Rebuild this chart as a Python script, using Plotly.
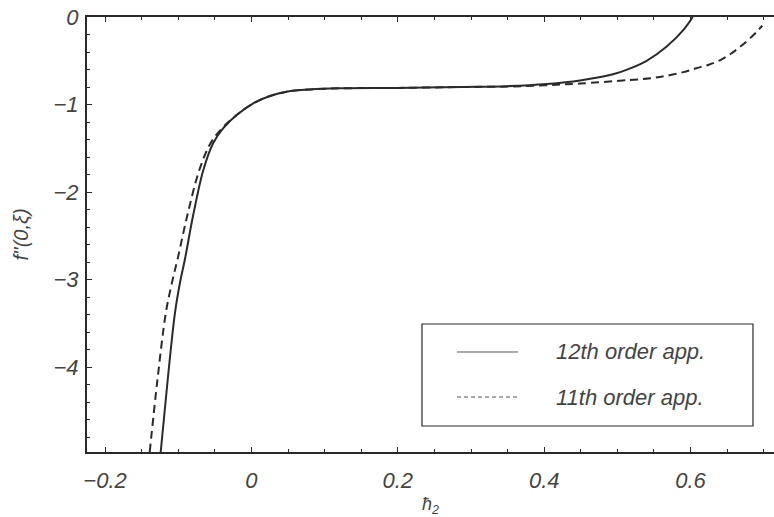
import plotly.graph_objects as go

# 12th order approximation of f''(0, xi) versus h2
h_12 = [-0.124, -0.1145, -0.1045, -0.098, -0.0905, -0.0800, -0.0658, -0.0522,
        -0.0385, -0.0202, 0.0025, 0.0253, 0.048, 0.080, 0.120, 0.200, 0.289,
        0.350, 0.404, 0.449, 0.494, 0.515, 0.540, 0.567, 0.590, 0.603]
f_12 = [-4.97, -4.15, -3.38, -3.05, -2.75, -2.28, -1.75, -1.44,
        -1.27, -1.12, -0.986, -0.903, -0.853, -0.827, -0.815, -0.81, -0.80,
        -0.79, -0.765, -0.725, -0.655, -0.595, -0.50, -0.34, -0.15, 0.0]

# 11th order approximation
h_11 = [-0.139, -0.1285, -0.117, -0.109, -0.1005, -0.088, -0.0713, -0.0557,
        -0.040, -0.0202, 0.0025, 0.0253, 0.048, 0.080, 0.120, 0.200, 0.289,
        0.350, 0.400, 0.449, 0.517, 0.545, 0.565, 0.590, 0.608, 0.625, 0.640,
        0.655, 0.667, 0.683, 0.698]
f_11 = [-4.97, -4.15, -3.38, -3.05, -2.75, -2.28, -1.75, -1.44,
        -1.27, -1.12, -0.986, -0.903, -0.853, -0.827, -0.815, -0.81, -0.80,
        -0.795, -0.78, -0.76, -0.72, -0.70, -0.675, -0.63, -0.585, -0.545,
        -0.495, -0.42, -0.345, -0.23, -0.10]

x_ticks = [-0.2, 0, 0.2, 0.4, 0.6]
x_labels = ["\u22120.2", "0", "0.2", "0.4", "0.6"]
y_ticks = [0, -1, -2, -3, -4]
y_labels = ["0", "\u22121", "\u22122", "\u22123", "\u22124"]

legend_names = ["12th order app.", "11th order app."]

INK = "#2a2a2a"
TEXT = "#444444"
FONT = "Liberation Sans"

fig = go.Figure()
fig.add_trace(go.Scatter(x=h_12, y=f_12, mode="lines", name=legend_names[0],
                         line=dict(color=INK, width=2, shape="spline",
                                   smoothing=1.0),
                         showlegend=False))
fig.add_trace(go.Scatter(x=h_11, y=f_11, mode="lines", name=legend_names[1],
                         line=dict(color=INK, width=2, dash="8px,5px",
                                   shape="spline", smoothing=1.0),
                         showlegend=False))

axis_common = dict(
    showgrid=False, zeroline=False, showline=True, linecolor=INK, linewidth=2,
    ticks="inside", ticklen=5, tickwidth=1, tickcolor=INK,
    tickfont=dict(family=FONT, size=22, color=TEXT, style="italic"),
)

fig.update_xaxes(
    range=[-0.2247, 0.714], tickvals=x_ticks, ticktext=x_labels,
    mirror="allticks", ticklabelstandoff=8,
    minor=dict(dtick=0.05, tick0=0, ticks="inside", ticklen=3, tickcolor=INK),
    **axis_common,
)
fig.update_yaxes(
    range=[-4.97, 0], tickvals=y_ticks, ticktext=y_labels,
    ticklabelstandoff=2,
    minor=dict(dtick=0.2, tick0=0, ticks="inside", ticklen=3, tickcolor=INK),
    **axis_common,
)

# Axis titles
fig.add_annotation(xref="paper", yref="paper", x=0.5, y=-0.124,
                   text="\u0127<sub>2</sub>", showarrow=False,
                   xanchor="center", yanchor="middle",
                   font=dict(family=FONT, size=18, color=TEXT, style="italic"))
fig.add_annotation(xref="paper", yref="paper", x=-0.0975, y=0.5,
                   text="f''(0,\u03be)", showarrow=False, textangle=-90,
                   xanchor="center", yanchor="middle",
                   font=dict(family=FONT, size=20, color=TEXT, style="italic"))

# Legend box drawn in plot-area coordinates
box = dict(x0=0.4876, x1=0.9694, y0=0.0598, y1=0.2943)
rows_y = [0.2299, 0.1264]
sample_x = (0.5386, 0.6274)
text_x = 0.6798

fig.add_shape(type="rect", xref="paper", yref="paper", **box,
              line=dict(color=INK, width=1.2), fillcolor="white", layer="above")
for name, ry, dash in zip(legend_names, rows_y, ["solid", "4px,3px"]):
    fig.add_shape(type="line", xref="paper", yref="paper",
                  x0=sample_x[0], x1=sample_x[1], y0=ry, y1=ry,
                  line=dict(color="#555555", width=1, dash=dash), layer="above")
    fig.add_annotation(xref="paper", yref="paper", x=text_x, y=ry, text=name,
                       showarrow=False, xanchor="left", yanchor="middle",
                       font=dict(family=FONT, size=22, color=TEXT,
                                 style="italic"))

fig.update_layout(
    width=774, height=517,
    margin=dict(l=87, r=0, t=17, b=65),
    paper_bgcolor="white", plot_bgcolor="white",
    showlegend=False,
)

fig.write_html("out.html")
